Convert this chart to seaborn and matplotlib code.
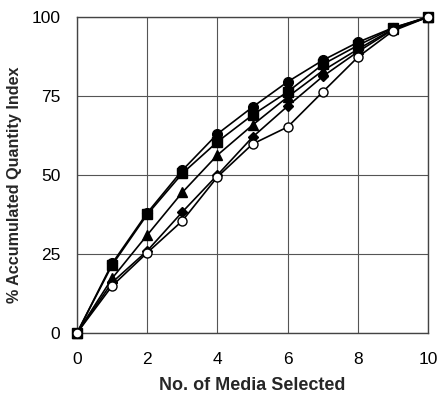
import pandas as pd
import matplotlib
matplotlib.use("Agg")
import matplotlib.pyplot as plt
import seaborn as sns

# media selected (x) and accumulated quantity index per series
n_media = [0, 1, 2, 3, 4, 5, 6, 7, 8, 9, 10]
series_circle = [0, 22, 38, 51.5, 63, 71.5, 79.5, 86.3, 92, 96.6, 100]
series_square = [0, 21.5, 37.5, 50.5, 60.5, 69, 76.3, 85, 91, 96.5, 100]
series_triangle = [0, 17.3, 31, 44.5, 56.3, 65.8, 74.7, 83, 89.8, 96.2, 100]
series_diamond = [0, 16, 26, 38.3, 50, 62, 71.8, 81.2, 89, 96, 100]
series_open = [0, 14.9, 25.4, 35.5, 49.4, 59.8, 65.2, 76.3, 87.3, 95.6, 100]

x_ticks = [0, 2, 4, 6, 8, 10]
y_ticks = [0, 25, 50, 75, 100]

sns.set_theme(style="white")
plt.rcParams['font.family'] = ['Liberation Sans', 'DejaVu Sans']

fig = plt.figure(figsize=(4.4, 3.95), dpi=100)
ax = fig.add_axes([0.175, 0.157, 0.798, 0.8])

styles = [
    (series_circle, "o", "black", 7),
    (series_square, "s", "black", 6.5),
    (series_triangle, "^", "black", 7),
    (series_diamond, "D", "black", 5.5),
    (series_open, "o", "white", 6.5),
]
for vals, mk, fc, ms in styles:
    df = pd.DataFrame({"x": n_media, "y": vals})
    sns.lineplot(data=df, x="x", y="y", ax=ax, color="black", linewidth=1.2,
                 marker=mk, markersize=ms, markerfacecolor=fc,
                 markeredgecolor="black", markeredgewidth=1.0, zorder=3)

ax.set_xlim(0, 10)
ax.set_ylim(0, 100)
ax.set_xticks(x_ticks)
ax.set_yticks(y_ticks)
ax.grid(True, color="#555555", linewidth=0.8)
for s in ax.spines.values():
    s.set_color("#444444")
    s.set_linewidth(1.0)
ax.tick_params(axis="x", length=0, labelsize=12.5, pad=14, colors="black")
ax.tick_params(axis="y", length=0, labelsize=12.5, pad=12, colors="black")
ax.set_xlabel("No. of Media Selected", fontsize=13, fontweight="bold", labelpad=7)
ax.set_ylabel("% Accumulated Quantity Index", fontsize=11.6, fontweight="bold")
ax.yaxis.set_label_coords(-0.157, 0.468)
for line in ax.get_lines():
    line.set_clip_on(False)

fig.savefig("out.png", dpi=100)
plt.close(fig)
